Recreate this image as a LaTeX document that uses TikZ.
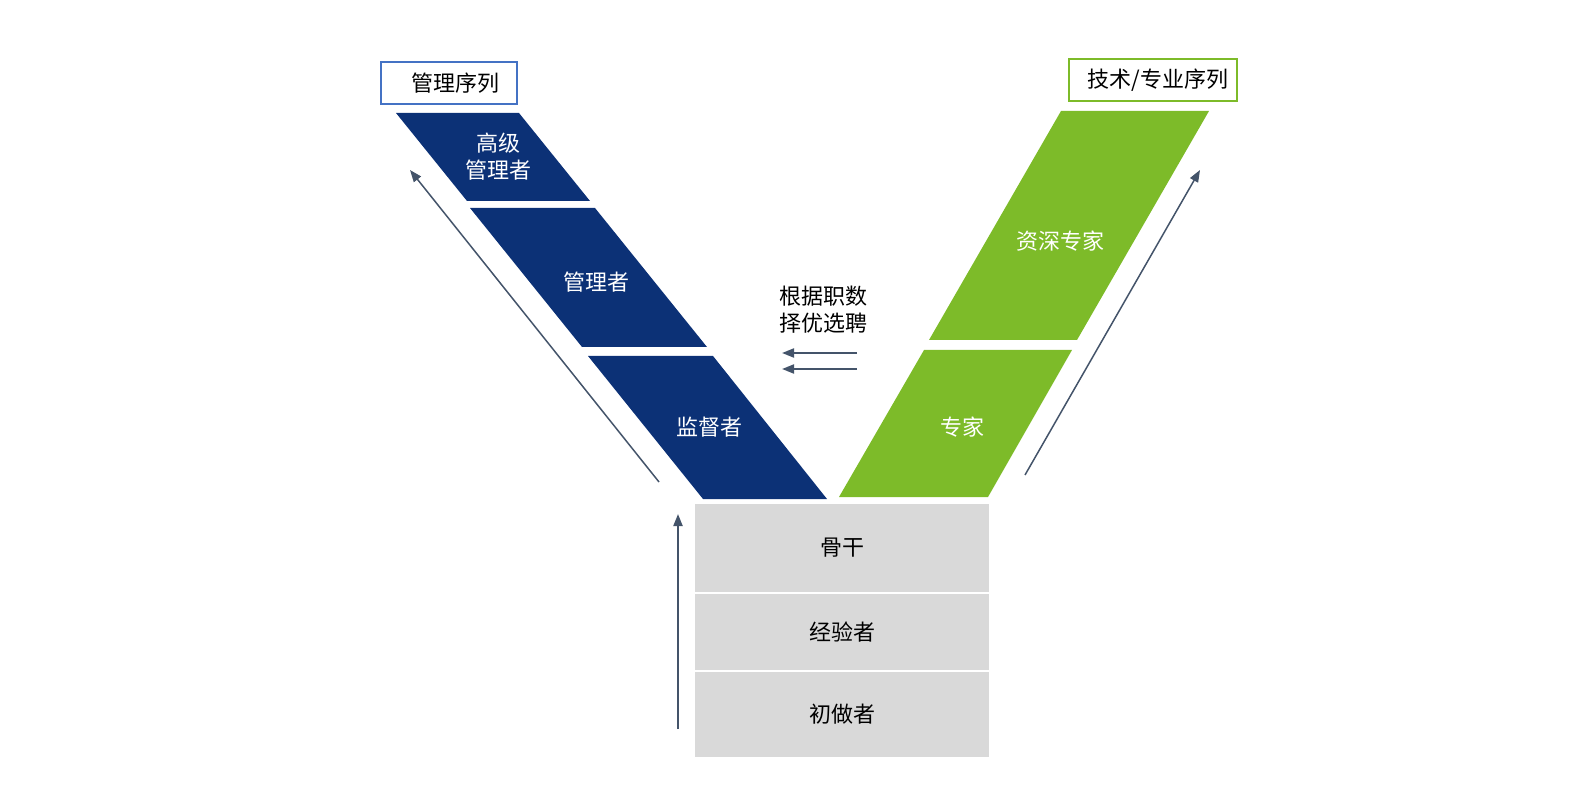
\documentclass[tikz,border=0pt]{standalone}
\usepackage{fontspec}
\newfontfamily\cjk{Noto Sans CJK SC}
\usetikzlibrary{arrows.meta}
\definecolor{mgtblue}{RGB}{12,49,118}
\definecolor{techgreen}{RGB}{125,187,41}
\definecolor{basegray}{RGB}{217,217,217}
\definecolor{arrowslate}{RGB}{68,84,106}
\definecolor{boxblue}{RGB}{68,114,196}

\begin{document}
\begin{tikzpicture}[x=0.5pt,y=-0.5pt,
  lbl/.style={font=\cjk\fontsize{11}{13.5}\selectfont, align=center, inner sep=0pt},
  wlbl/.style={lbl, text=white},
  titlebox/.style={lbl, draw, line width=1pt, minimum height=21pt},
  rankbox/.style={lbl, fill=basegray, minimum width=147pt},
  risearrow/.style={-{Triangle[length=6pt,width=4.5pt]}, arrowslate, line width=0.75pt},
  movearrow/.style={-{Triangle[length=6pt,width=4.5pt]}, arrowslate, line width=1pt}]
\useasboundingbox (0,0) rectangle (1589,796);

% management track
\fill[mgtblue] (396,113) -- (519,113) -- (590,201) -- (467,201) -- cycle;
\fill[mgtblue] (470,208) -- (595,208) -- (707,347) -- (582,347) -- cycle;
\fill[mgtblue] (588,356) -- (713,356) -- (827,499) -- (703,499) -- cycle;
\node[wlbl] (senior) at (498,157) {高级\\管理者};
\node[wlbl] (manager) at (596,282) {管理者};
\node[wlbl] (supervisor) at (709,427) {监督者};
\node[titlebox, draw=boxblue, minimum width=68pt] (mgttitle) at (449,83) {\hspace{6pt}管理序列};

% technical track
\fill[techgreen] (1061,111) -- (1209,111) -- (1077,340) -- (929,340) -- cycle;
\fill[techgreen] (924,350) -- (1072,350) -- (988,497) -- (839,497) -- cycle;
\node[wlbl] (srexpert) at (1060,241) {资深专家};
\node[wlbl] (expert) at (962,427) {专家};
\node[titlebox, draw=techgreen, minimum width=84pt] (techtitle) at (1153,80) {\hspace{5pt}技术/专业序列};

% common base
\node[rankbox, minimum height=44pt] (backbone) at (842,548) {骨干};
\node[rankbox, minimum height=38pt] (experienced) at (842,632) {经验者};
\node[rankbox, minimum height=42.5pt] (beginner) at (842,714.5) {初做者};

% selection
\node[lbl] (select) at (823,310) {根据职数\\择优选聘};
\coordinate (sela) at (857,353);
\coordinate (selb) at (782,353);
\coordinate (selc) at (857,369);
\coordinate (seld) at (782,369);
\draw[movearrow] (sela) -- (selb);
\draw[movearrow] (selc) -- (seld);

% growth arrows
\coordinate (upfoot) at (678,729);
\coordinate (uptip) at (678,514);
\coordinate (mgtfoot) at (659,482);
\coordinate (mgttip) at (410,170);
\coordinate (techfoot) at (1025,475);
\coordinate (techtip) at (1200,170);
\draw[movearrow] (upfoot) -- (uptip);
\draw[risearrow] (mgtfoot) -- (mgttip);
\draw[risearrow] (techfoot) -- (techtip);
\end{tikzpicture}
\end{document}
